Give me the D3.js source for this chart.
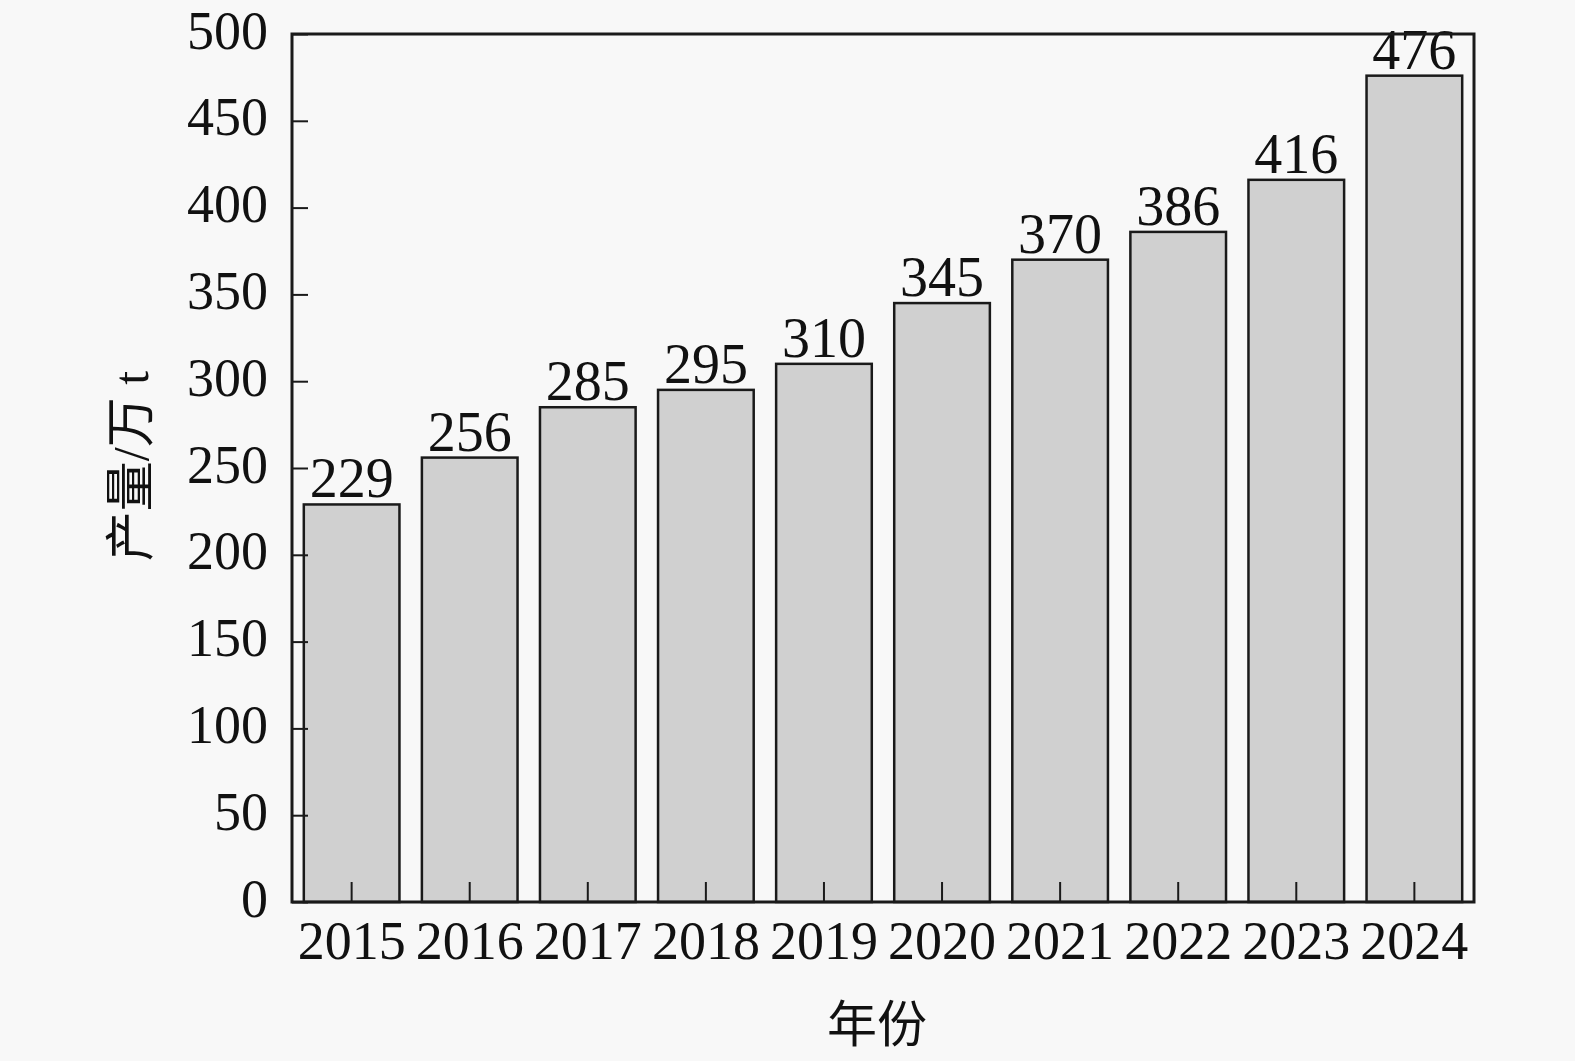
<!DOCTYPE html>
<html>
  <head>
    <meta charset="utf-8">
    <title>产量</title>
    <script src="https://cdn.jsdelivr.net/npm/d3@7"></script>
    <style>
      html, body {
        margin: 0;
        padding: 0;
        background: #f8f8f8;
      }
      svg {
        display: block;
      }
      svg text {
        font-family: "Liberation Serif", "Times New Roman", "Noto Sans CJK SC", serif;
      }
      .bar {
        fill: #d0d0d0;
        stroke: #1a1a1a;
        stroke-width: 2.5;
      }
      .axis text {
        font-size: 54px;
        fill: #111;
      }
      .axis line {
        stroke: #1a1a1a;
        stroke-width: 2;
      }
      .value {
        font-size: 56px;
        fill: #111;
        text-anchor: middle;
      }
      .title {
        font-size: 50px;
        fill: #111;
        text-anchor: middle;
      }
    </style>
  </head>
  <body>
    <script>
    // data
    const years = ["2015", "2016", "2017", "2018", "2019", "2020", "2021", "2022", "2023", "2024"];
    const output = [229, 256, 285, 295, 310, 345, 370, 386, 416, 476];
    const yTicks = [0, 50, 100, 150, 200, 250, 300, 350, 400, 450, 500];

    let margin = {top: 34, right: 101, left: 292, bottom: 159},
        width = 1575 - margin.left - margin.right,
        height = 1061 - margin.top - margin.bottom;

    let svg = d3.select('body').append('svg')
      .attr('width', width + margin.left + margin.right)
      .attr('height', height + margin.top + margin.bottom);

    let g = svg.append('g')
      .attr('transform', 'translate(' + margin.left + ',' + margin.top + ')');

    let x = d3.scaleBand().domain(years).range([0, width])
      .paddingInner(0.19).paddingOuter(0.1);
    let y = d3.scaleLinear().domain([0, 500]).range([height, 0]);

    // bars
    g.selectAll('.bar')
      .data(years).enter()
      .append('rect')
      .attr('class', 'bar')
      .attr('x', d => x(d))
      .attr('y', (d, i) => y(output[i]))
      .attr('width', x.bandwidth())
      .attr('height', (d, i) => height - y(output[i]));

    // value labels
    g.selectAll('.value')
      .data(years).enter()
      .append('text')
      .attr('class', 'value')
      .attr('x', d => x(d) + x.bandwidth() / 2)
      .attr('y', (d, i) => y(output[i]) - 7)
      .text((d, i) => output[i]);

    // axes, ticks point inwards
    let xAxis = g.append('g')
      .attr('class', 'axis')
      .attr('transform', 'translate(0,' + height + ')')
      .call(d3.axisBottom(x).tickSizeInner(-20).tickSizeOuter(0).tickPadding(19));
    xAxis.select('.domain').remove();
    xAxis.attr('font-family', null).attr('font-size', null);

    let yAxis = g.append('g')
      .attr('class', 'axis')
      .call(d3.axisLeft(y).tickValues(yTicks).tickSizeInner(-16).tickSizeOuter(0).tickPadding(24));
    yAxis.select('.domain').remove();
    yAxis.attr('font-family', null).attr('font-size', null);
    yAxis.selectAll('text').attr('dy', '0.26em');

    // frame
    g.append('rect')
      .attr('width', width)
      .attr('height', height)
      .attr('fill', 'none')
      .attr('stroke', '#1a1a1a')
      .attr('stroke-width', 3);

    // axis titles
    svg.append('text')
      .attr('class', 'title')
      .attr('transform', 'translate(148,466) rotate(-90)')
      .text('产量/万 t');

    svg.append('text')
      .attr('class', 'title')
      .attr('x', 877)
      .attr('y', 1042)
      .text('年份');
    </script>
  </body>
</html>
